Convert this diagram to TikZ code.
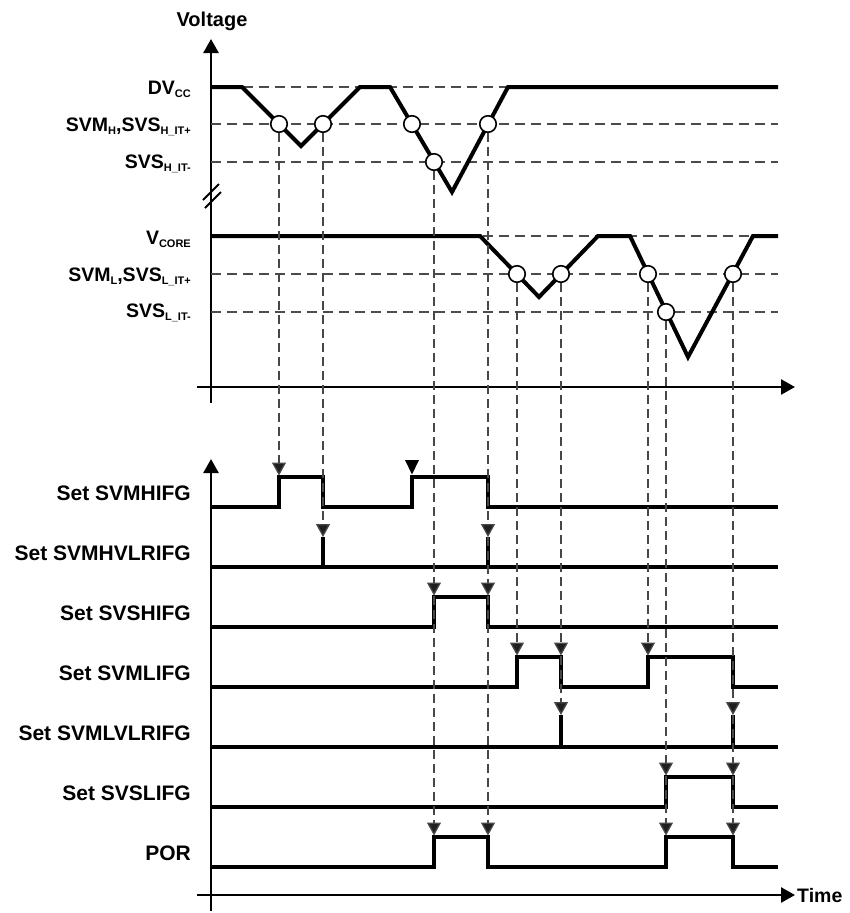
\documentclass[tikz,border=0pt]{standalone}
\usepackage{fontspec}
\setmainfont{Liberation Sans}
\usetikzlibrary{arrows.meta}
\newcommand{\msub}[1]{\raisebox{-3pt}{\fontsize{11}{11}\selectfont #1}}
\begin{document}
\begin{tikzpicture}[x=1pt,y=-1pt,
  axisline/.style={line width=2.6pt,-{Triangle[length=14pt,width=15pt]}},
  wave/.style={line width=4pt},
  sig/.style={line width=3.6pt},
  hgrid/.style={draw=black!70,line width=1.3pt,dash pattern=on 10pt off 6pt},
  vgrid/.style={draw=black!72,line width=1.3pt,dash pattern=on 9pt off 5pt,-{Triangle[length=13pt,width=14pt,fill=black!88]}},
  cmark/.style={circle,draw,fill=white,line width=1.6pt,minimum size=16.5pt,inner sep=0pt},
  ulbl/.style={anchor=base east,font=\fontsize{19.5}{20}\selectfont\bfseries,inner sep=0pt},
  slbl/.style={anchor=base east,font=\fontsize{21}{22}\selectfont\bfseries,inner sep=0pt},
]
\useasboundingbox (0,0) rectangle (849,913);

% ---------- upper voltage plot ----------
\draw[axisline] (211,403) -- (211,39);
\draw[axisline] (197,387) -- (795,387);
\draw[line width=2pt] (203,200) -- (219,184);
\draw[line width=2pt] (205,208) -- (221,192);

\node[font=\fontsize{20}{21}\selectfont\bfseries,anchor=base,inner sep=0pt] (vlab) at (212,26) {Voltage};

\node[ulbl] (ldv) at (191,94) {DV\msub{CC}};
\node[ulbl] (lsvmh) at (191,131) {SVM\msub{H},SVS\msub{H\_IT+}};
\node[ulbl] (lsvsh) at (191,168) {SVS\msub{H\_IT-}};
\node[ulbl] (lvc) at (191,244) {V\msub{CORE}};
\node[ulbl] (lsvml) at (191,281) {SVM\msub{L},SVS\msub{L\_IT+}};
\node[ulbl] (lsvsl) at (191,317) {SVS\msub{L\_IT-}};

\foreach \yy in {87,124,162,236,274,312}
  \draw[hgrid] (211,\yy) -- (778,\yy);

\draw[wave] (211,87) -- (242,87) -- (301,146) -- (360,87) -- (390,87)
  -- (452,192) -- (508,87) -- (778,87);
\draw[wave] (211,236) -- (480,236) -- (539,297) -- (598,236) -- (630,236)
  -- (688,357) -- (753,236) -- (778,236);

\node[cmark] (h1) at (279,124) {};
\node[cmark] (h2) at (323,124) {};
\node[cmark] (h3) at (412,124) {};
\node[cmark] (h4) at (434,162) {};
\node[cmark] (h5) at (488,124) {};
\node[cmark] (l1) at (517,274) {};
\node[cmark] (l2) at (561,274) {};
\node[cmark] (l3) at (648,274) {};
\node[cmark] (l4) at (666,312) {};
\node[cmark] (l5) at (733,274) {};

% ---------- lower signal plot ----------
\draw[axisline] (211,911) -- (211,459);
\draw[axisline] (197,895) -- (795,895);
\node[font=\fontsize{19.5}{20}\selectfont\bfseries,anchor=base west,inner sep=0pt] (tlab) at (797,902) {Time};

\node[slbl] (s1) at (191,500) {Set SVMHIFG};
\node[slbl] (s2) at (191,560) {Set SVMHVLRIFG};
\node[slbl] (s3) at (191,620) {Set SVSHIFG};
\node[slbl] (s4) at (191,680) {Set SVMLIFG};
\node[slbl] (s5) at (191,740) {Set SVMLVLRIFG};
\node[slbl] (s6) at (191,800) {Set SVSLIFG};
\node[slbl] (s7) at (191,860) {POR};

\draw[sig] (211,507) -- (279,507) -- (279,477) -- (323,477) -- (323,507) -- (412,507)
  -- (412,477) -- (488,477) -- (488,507) -- (778,507);
\draw[sig] (211,567) -- (778,567);
\draw[sig] (323,567) -- (323,537);
\draw[sig] (488,567) -- (488,537);
\draw[sig] (211,627) -- (434,627) -- (434,597) -- (488,597) -- (488,627) -- (778,627);
\draw[sig] (211,687) -- (517,687) -- (517,657) -- (561,657) -- (561,687) -- (648,687)
  -- (648,657) -- (733,657) -- (733,687) -- (778,687);
\draw[sig] (211,747) -- (778,747);
\draw[sig] (561,747) -- (561,715);
\draw[sig] (733,747) -- (733,715);
\draw[sig] (211,807) -- (666,807) -- (666,777) -- (733,777) -- (733,807) -- (778,807);
\draw[sig] (211,867) -- (434,867) -- (434,837) -- (488,837) -- (488,867) -- (666,867)
  -- (666,837) -- (733,837) -- (733,867) -- (778,867);

% arrow targets
\coordinate (h1a) at (279,475.5);
\coordinate (h2a) at (323,537);
\coordinate (h4a) at (434,595.5);
\coordinate (h4b) at (434,835.5);
\coordinate (h5a) at (488,537);
\coordinate (h5b) at (488,595.5);
\coordinate (h5c) at (488,835.5);
\coordinate (l1a) at (517,655.5);
\coordinate (l2a) at (561,655.5);
\coordinate (l2b) at (561,715);
\coordinate (l3a) at (648,655.5);
\coordinate (l4a) at (666,775.5);
\coordinate (l4b) at (666,835.5);
\coordinate (l5a) at (733,715);
\coordinate (l5b) at (733,775.5);
\coordinate (l5c) at (733,835.5);

\draw[vgrid] (h1) -- (h1a);
\draw[vgrid] (h2) -- (h2a);
\draw[vgrid] (h4) -- (h4a);
\draw[vgrid] (h4a) -- (h4b);
\draw[vgrid] (h5) -- (h5a);
\draw[vgrid] (h5a) -- (h5b);
\draw[vgrid] (h5b) -- (h5c);
\draw[vgrid] (l1) -- (l1a);
\draw[vgrid] (l2) -- (l2a);
\draw[vgrid] (l2a) -- (l2b);
\draw[vgrid] (l3) -- (l3a);
\draw[vgrid] (l4) -- (l4a);
\draw[vgrid] (l4a) -- (l4b);
\draw[vgrid] (l5) -- (l5a);
\draw[vgrid] (l5a) -- (l5b);
\draw[vgrid] (l5b) -- (l5c);

% free marker on second SVMHIFG rise
\fill (405,460) -- (419,460) -- (412,474.5) -- cycle;
\end{tikzpicture}
\end{document}
